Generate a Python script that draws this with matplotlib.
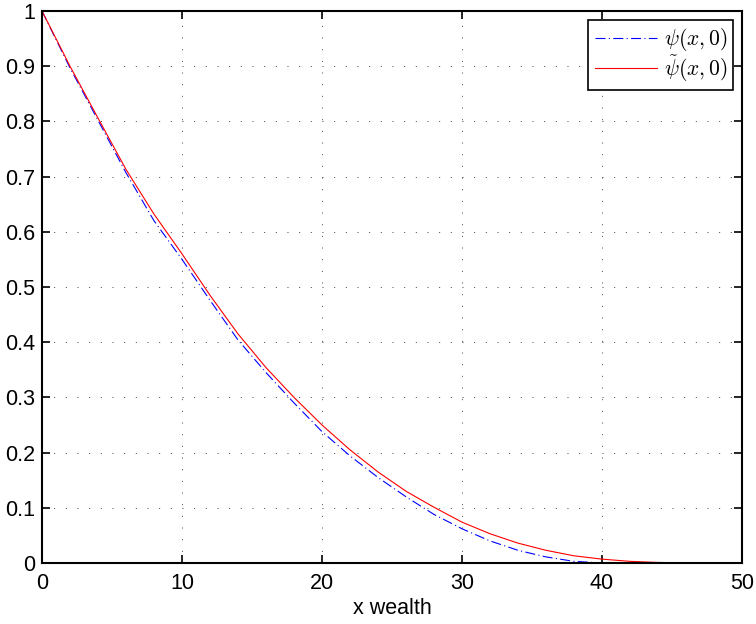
import matplotlib
matplotlib.use("Agg")
import matplotlib.pyplot as plt
from matplotlib.ticker import MultipleLocator

# values, every 2 units of wealth
x_wealth = [0, 2, 4, 6, 8, 10, 12, 14, 16, 18, 20, 22, 24, 26, 28, 30,
            32, 34, 36, 38, 40, 42, 44, 46, 48, 50]
psi = [1.0, 0.897, 0.802, 0.707, 0.620, 0.550, 0.476, 0.404, 0.345, 0.290,
       0.238, 0.194, 0.155, 0.120, 0.088, 0.062, 0.040, 0.023, 0.011, 0.003,
       0.0, 0.0, 0.0, 0.0, 0.0, 0.0]
psi_tilde = [1.0, 0.900, 0.806, 0.713, 0.632, 0.560, 0.485, 0.415, 0.354, 0.300,
             0.250, 0.205, 0.165, 0.130, 0.101, 0.074, 0.053, 0.036, 0.023, 0.013,
             0.007, 0.003, 0.001, 0.0003, 0.0, 0.0]

plt.rcParams["font.family"] = ["Liberation Sans", "DejaVu Sans"]
plt.rcParams["mathtext.fontset"] = "cm"

fig = plt.figure(figsize=(7.56, 6.24), dpi=100)
ax = fig.add_axes([42 / 756, 61 / 624, 700 / 756, 552 / 624])

ax.plot(x_wealth, psi, color="blue", linestyle=(0, (9, 3, 1, 3)), linewidth=0.8,
        label=r"$\psi(x,0)$")
ax.plot(x_wealth, psi_tilde, color="red", linestyle="-", linewidth=0.8,
        label=r"$\tilde{\psi}(x,0)$")

ax.set_xlim(0, 50)
ax.set_ylim(0, 1)
ax.xaxis.set_major_locator(MultipleLocator(10))
ax.yaxis.set_major_locator(MultipleLocator(0.1))
ax.yaxis.set_major_formatter(plt.FuncFormatter(lambda v, p: f"{v:g}"))
ax.tick_params(direction="in", top=True, right=True, length=6, width=1.2,
               labelsize=15.5)
ax.tick_params(axis="x", pad=7)
ax.tick_params(axis="y", pad=5)
ax.grid(True, linestyle=(0, (1, 11)), color="black", linewidth=0.7, alpha=0.75)
for s in ax.spines.values():
    s.set_linewidth(1.5)

ax.set_xlabel("x wealth", fontsize=15.5, labelpad=3)

leg = ax.legend(loc="upper right", fontsize=15.5, fancybox=False, framealpha=1,
                edgecolor="black", borderaxespad=0.4, handlelength=2.9,
                handletextpad=0.3, labelspacing=0.0, borderpad=0.3)
leg.get_frame().set_linewidth(1.2)

fig.savefig("out.png", dpi=100)
